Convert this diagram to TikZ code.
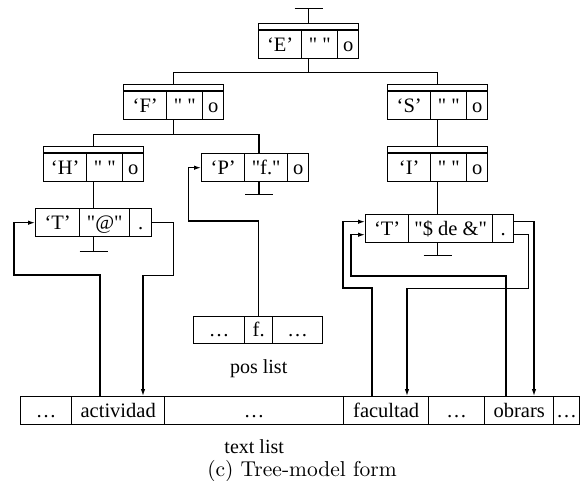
\documentclass[tikz,border=0pt]{standalone}
\usepackage{fontspec}
\newfontfamily\listfont[Ligatures=ResetAll]{Liberation Serif}
\newfontfamily\capfont{lmroman10-regular.otf}
\usepackage{tikz}
\usetikzlibrary{arrows.meta, positioning, calc}

\tikzset{
  cell/.style={draw, line width=1.4pt, minimum height=28pt, inner sep=0pt,
    text height=13.5pt, text depth=0pt, anchor=north west,
    font=\listfont\fontsize{20.5}{23}\selectfont},
  strip/.style={draw, line width=1.4pt, minimum height=6pt, inner sep=0pt,
    anchor=south west},
  link/.style={line width=1.2pt},
  ptr/.style={line width=1.2pt, -{Latex[length=7pt, width=4.5pt]}},
  lbl/.style={inner sep=0pt, font=\listfont\fontsize{20}{23}\selectfont},
}

\begin{document}
\begin{tikzpicture}[x=1pt, y=-1pt]
  \useasboundingbox (0,0) rectangle (581,481);

  %% Tree records
  \foreach \nm/\x/\y/\w/\t in {
      E1/258/30/43/{‘E’}, E2/301/30/36/{" "}, E3/337/30/21/o,
      F1/123/91/43/{‘F’}, F2/166/91/36/{" "}, F3/202/91/21/o,
      S1/387/91/43/{‘S’}, S2/430/91/36/{" "}, S3/466/91/21/o,
      H1/43/153/43/{‘H’}, H2/86/153/36/{" "}, H3/122/153/21/o,
      I1/387/153/43/{‘I’}, I2/430/153/36/{" "}, I3/466/153/21/o,
      P1/201/153/43/{‘P’}, P2/244/153/43/{"f."}, P3/287/153/21/o,
      Ta1/35/208/44/{‘T’}, Ta2/79/208/50/{"@"}, Ta3/129/208/22/{.},
      Tb1/365/214/43/{‘T’}, Tb2/408/214/84/{"\$ de \&"}, Tb3/492/214/21/{.}}{
    \node[cell, minimum width=\w] (\nm) at (\x,\y) {\t};
  }

  %% Header strips
  \foreach \nm/\c in {Es/E1, Fs/F1, Ss/S1, Hs/H1, Is/I1}{
    \node[strip, minimum width=100] (\nm) at (\c.north west) {};
  }

  %% pos list and text list
  \foreach \nm/\x/\w/\t in {Q1/193/51/{\ldots}, Q2/244/28/{f.}, Q3/272/50/{\ldots}}{
    \node[cell, minimum width=\w, minimum height=27pt] (\nm) at (\x,316) {\t};
  }
  \foreach \nm/\x/\w/\t in {L1/20/51/{\ldots}, L2/71/93/actividad, L3/164/179/{\ldots},
      L4/343/85/facultad, L5/428/56/{\ldots}, L6/484/69/obrars, L7/553/26/{\ldots}}{
    \node[cell, minimum width=\w] (\nm) at (\x,396) {\t};
  }

  \node[lbl, below=15pt of Q2] (poslbl) {pos list};
  \node[lbl, below=14pt of L3] (txtlbl) {text list};
  \node[inner sep=0pt, font=\capfont\fontsize{21.5}{25}\selectfont] (caption) at (302,471)
    {(c) Tree-model form};

  %% Tree links
  \draw[link] (Es |- E2.south) -- ++(0,13) coordinate (Ej) -| (Fs.north);
  \draw[link] (Ej) -| (Ss.north);
  \draw[link] (Fs |- F2.south) -- ++(0,14) coordinate (Fj) -| (Hs.north);
  \draw[link] (Fj) -| ([xshift=15pt]P2.north west);
  \draw[link] (Ss |- S2.south) -- (Is.north);
  \draw[link] (Hs |- H2.south) -- (Hs |- Ta2.north);
  \draw[link] (Is |- I2.south) -- (Is |- Tb2.north);

  %% Nil stubs
  \coordinate (Enil) at ($(Es.north)+(0,-14)$);
  \coordinate (Pnil) at ($([xshift=15pt]P2.south west)+(0,12)$);
  \coordinate (Tanil) at ($(Hs |- Ta2.south)+(0,14)$);
  \coordinate (Tbnil) at ($(Is |- Tb2.south)+(0,12)$);
  \draw[link] (Es.north) -- (Enil);
  \draw[link] ([xshift=15pt]P2.south west) -- (Pnil);
  \draw[link] (Hs |- Ta2.south) -- (Tanil);
  \draw[link] (Is |- Tb2.south) -- (Tbnil);
  \foreach \n in {Enil, Pnil, Tanil, Tbnil}{
    \draw[link] ([xshift=-14pt]\n) -- ([xshift=14pt]\n);
  }

  %% Pointers between lists and tree
  \draw[ptr] ([xshift=29pt]L2.north west) |- ++(-86,-121) |- (Ta1.west);
  \draw[ptr] (Ta3.east) -- ++(21,0) -- ++(0,53) -| ([xshift=72pt]L2.north west);
  \draw[ptr] (Q2.north) |- ++(-70,-95) |- (P1.west);
  \draw[ptr] ([xshift=29pt]L4.north west) |- ++(-29,-108) |- ([yshift=7pt]Tb1.west);
  \draw[ptr] ([yshift=-6pt]Tb3.east) -- ++(14,0) -- ++(0,54) -| ([xshift=64pt]L4.north west);
  \draw[ptr] ([xshift=22pt]L6.north west) |- ++(-155,-120) |- ([yshift=-6pt]Tb1.west);
  \draw[ptr] ([yshift=7pt]Tb3.east) -| ([xshift=50pt]L6.north west);

\end{tikzpicture}
\end{document}
